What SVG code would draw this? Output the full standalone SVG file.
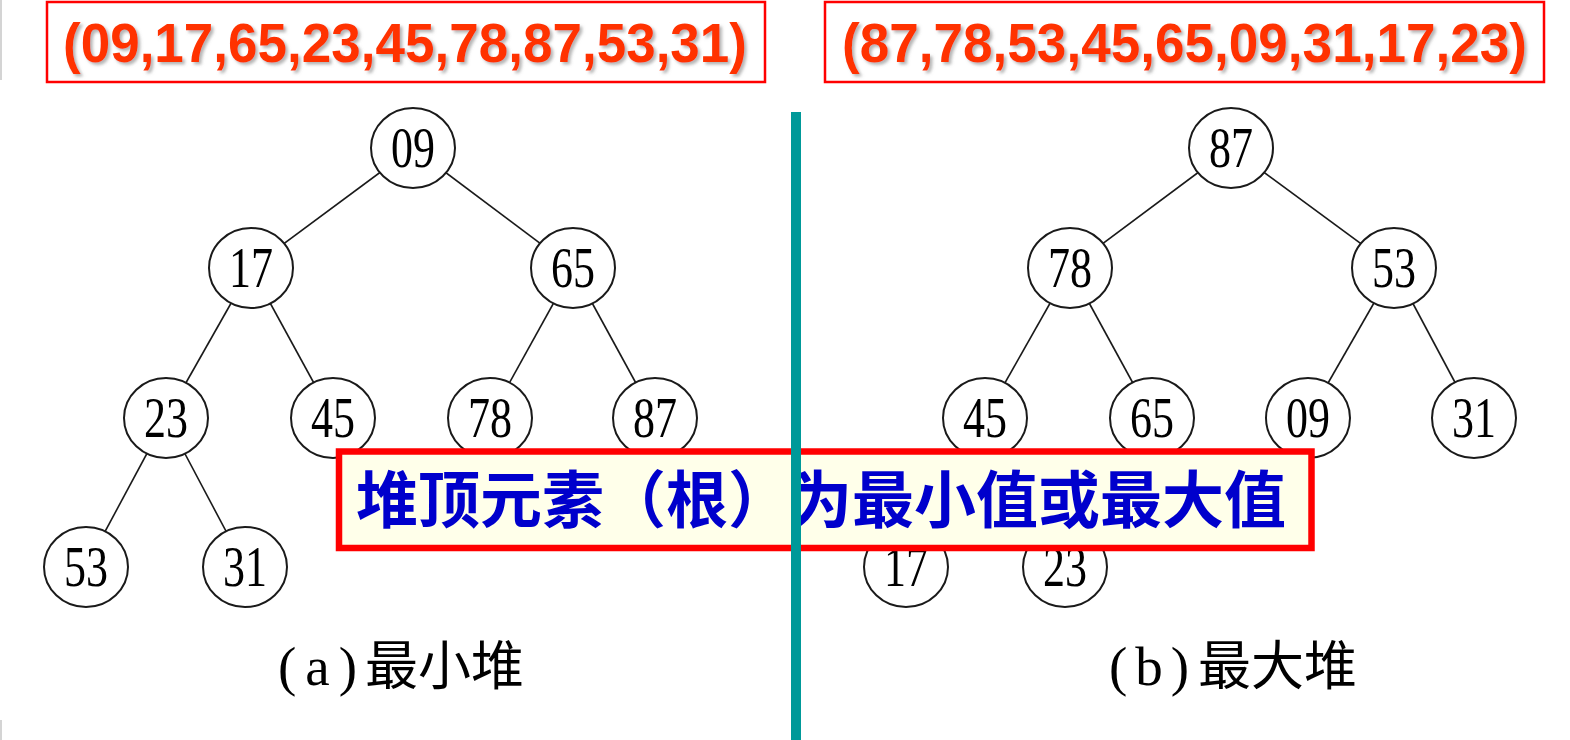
<svg xmlns="http://www.w3.org/2000/svg" width="1570" height="740" viewBox="0 0 1570 740">
<defs>
<filter id="sh" x="-5%" y="-20%" width="110%" height="150%">
<feDropShadow dx="2.5" dy="2.5" stdDeviation="1.5" flood-color="#777" flood-opacity="0.55"/>
</filter>
<style>
.seq{font-family:"Liberation Sans",Arial,sans-serif;font-weight:bold;font-size:55px;fill:#FF3300;text-anchor:middle;}
.seqbox{fill:#fff;stroke:#FF0000;stroke-width:2.5;}
.edge{stroke:#1a1a1a;stroke-width:1.6;fill:none;}
.node ellipse{fill:#fff;stroke:#1a1a1a;stroke-width:2;}
.node text{font-family:"Liberation Serif","Times New Roman",serif;font-size:57px;fill:#000;text-anchor:middle;}
.cap{font-family:"Liberation Serif","Noto Sans CJK SC",serif;font-size:55px;fill:#000;}
.cjk{font-family:"Noto Sans CJK SC",sans-serif;font-size:53px;}
.banner rect{fill:#FFFFEA;stroke:#FF0000;stroke-width:6.5;}
.banner text{font-family:"Noto Sans CJK SC",sans-serif;font-weight:bold;font-size:62px;fill:#0000CC;}
</style>
</defs>
<rect x="0" y="0" width="1570" height="740" fill="#fff"/>
<line x1="1" y1="0" x2="1" y2="80" stroke="#d4d4d4" stroke-width="2"/>
<line x1="1" y1="720" x2="1" y2="740" stroke="#d4d4d4" stroke-width="2"/>

<g id="seq-min">
<rect class="seqbox" x="47" y="2" width="718" height="80"/>
<text class="seq" x="405" y="62" textLength="684" lengthAdjust="spacingAndGlyphs" filter="url(#sh)">(09,17,65,23,45,78,87,53,31)</text>
</g>
<g id="seq-max">
<rect class="seqbox" x="825" y="2" width="719" height="80"/>
<text class="seq" x="1184.5" y="62" textLength="685" lengthAdjust="spacingAndGlyphs" filter="url(#sh)">(87,78,53,45,65,09,31,17,23)</text>
</g>

<g id="connectors">
<line class="edge" x1="413" y1="148" x2="251" y2="268"/>
<line class="edge" x1="413" y1="148" x2="573" y2="268"/>
<line class="edge" x1="251" y1="268" x2="166" y2="418"/>
<line class="edge" x1="251" y1="268" x2="333" y2="418"/>
<line class="edge" x1="573" y1="268" x2="490" y2="418"/>
<line class="edge" x1="573" y1="268" x2="655" y2="418"/>
<line class="edge" x1="166" y1="418" x2="86" y2="567"/>
<line class="edge" x1="166" y1="418" x2="245" y2="567"/>
<line class="edge" x1="1231" y1="148" x2="1070" y2="268"/>
<line class="edge" x1="1231" y1="148" x2="1394" y2="268"/>
<line class="edge" x1="1070" y1="268" x2="985" y2="418"/>
<line class="edge" x1="1070" y1="268" x2="1152" y2="418"/>
<line class="edge" x1="1394" y1="268" x2="1308" y2="418"/>
<line class="edge" x1="1394" y1="268" x2="1474" y2="418"/>
<line class="edge" x1="985" y1="418" x2="906" y2="567"/>
<line class="edge" x1="985" y1="418" x2="1065" y2="567"/>
</g>

<g id="min-09" class="node"><ellipse cx="413" cy="148" rx="42" ry="40"/><text x="413" y="167" textLength="44" lengthAdjust="spacingAndGlyphs">09</text></g>
<g id="min-17" class="node"><ellipse cx="251" cy="268" rx="42" ry="40"/><text x="251" y="287" textLength="44" lengthAdjust="spacingAndGlyphs">17</text></g>
<g id="min-65" class="node"><ellipse cx="573" cy="268" rx="42" ry="40"/><text x="573" y="287" textLength="44" lengthAdjust="spacingAndGlyphs">65</text></g>
<g id="min-23" class="node"><ellipse cx="166" cy="418" rx="42" ry="40"/><text x="166" y="437" textLength="44" lengthAdjust="spacingAndGlyphs">23</text></g>
<g id="min-45" class="node"><ellipse cx="333" cy="418" rx="42" ry="40"/><text x="333" y="437" textLength="44" lengthAdjust="spacingAndGlyphs">45</text></g>
<g id="min-78" class="node"><ellipse cx="490" cy="418" rx="42" ry="40"/><text x="490" y="437" textLength="44" lengthAdjust="spacingAndGlyphs">78</text></g>
<g id="min-87" class="node"><ellipse cx="655" cy="418" rx="42" ry="40"/><text x="655" y="437" textLength="44" lengthAdjust="spacingAndGlyphs">87</text></g>
<g id="min-53" class="node"><ellipse cx="86" cy="567" rx="42" ry="40"/><text x="86" y="586" textLength="44" lengthAdjust="spacingAndGlyphs">53</text></g>
<g id="min-31" class="node"><ellipse cx="245" cy="567" rx="42" ry="40"/><text x="245" y="586" textLength="44" lengthAdjust="spacingAndGlyphs">31</text></g>

<g id="max-87" class="node"><ellipse cx="1231" cy="148" rx="42" ry="40"/><text x="1231" y="167" textLength="44" lengthAdjust="spacingAndGlyphs">87</text></g>
<g id="max-78" class="node"><ellipse cx="1070" cy="268" rx="42" ry="40"/><text x="1070" y="287" textLength="44" lengthAdjust="spacingAndGlyphs">78</text></g>
<g id="max-53" class="node"><ellipse cx="1394" cy="268" rx="42" ry="40"/><text x="1394" y="287" textLength="44" lengthAdjust="spacingAndGlyphs">53</text></g>
<g id="max-45" class="node"><ellipse cx="985" cy="418" rx="42" ry="40"/><text x="985" y="437" textLength="44" lengthAdjust="spacingAndGlyphs">45</text></g>
<g id="max-65" class="node"><ellipse cx="1152" cy="418" rx="42" ry="40"/><text x="1152" y="437" textLength="44" lengthAdjust="spacingAndGlyphs">65</text></g>
<g id="max-09" class="node"><ellipse cx="1308" cy="418" rx="42" ry="40"/><text x="1308" y="437" textLength="44" lengthAdjust="spacingAndGlyphs">09</text></g>
<g id="max-31" class="node"><ellipse cx="1474" cy="418" rx="42" ry="40"/><text x="1474" y="437" textLength="44" lengthAdjust="spacingAndGlyphs">31</text></g>
<g id="max-17" class="node"><ellipse cx="906" cy="567" rx="42" ry="40"/><text x="906" y="586" textLength="44" lengthAdjust="spacingAndGlyphs">17</text></g>
<g id="max-23" class="node"><ellipse cx="1065" cy="567" rx="42" ry="40"/><text x="1065" y="586" textLength="44" lengthAdjust="spacingAndGlyphs">23</text></g>

<g id="caption-a"><text class="cap" y="685"><tspan x="278" textLength="79" lengthAdjust="spacing">(a)</tspan><tspan class="cjk" x="365">最小堆</tspan></text></g>
<g id="caption-b"><text class="cap" y="685"><tspan x="1109" textLength="80" lengthAdjust="spacing">(b)</tspan><tspan class="cjk" x="1198">最大堆</tspan></text></g>

<g id="banner" class="banner">
<rect x="339" y="451.5" width="972.5" height="96.5"/>
<text x="356" y="523" textLength="930" lengthAdjust="spacingAndGlyphs">堆顶元素（根）为最小值或最大值</text>
</g>

<rect id="divider" x="791" y="112" width="10" height="628" fill="#009999"/>
</svg>
